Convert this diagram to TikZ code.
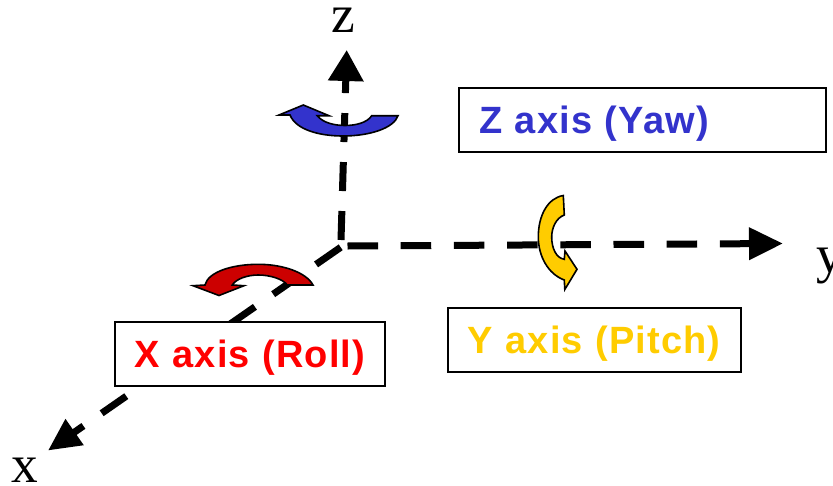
\documentclass[tikz,border=0pt]{standalone}
\usepackage{fontspec}
\usetikzlibrary{arrows.meta}
\setmainfont{Liberation Serif}
\newfontfamily\labelfont[LetterSpace=3]{Liberation Sans}
\definecolor{yawblue}{HTML}{3333CC}
\definecolor{rolldark}{HTML}{CC0000}
\definecolor{rollred}{HTML}{FF0000}
\definecolor{pitchyellow}{HTML}{FFCC00}
\tikzset{
  axisline/.style={line width=5.25pt,line cap=butt},
  rotarrow/.style={draw=black,line width=1.2pt,line join=miter,miter limit=10},
  labelbox/.style={draw=black,fill=white,line width=1.5pt,anchor=north west,
    minimum height=48pt,inner xsep=15pt,inner ysep=0pt,text height=21pt,text depth=0pt,
    align=left,font=\labelfont\bfseries\fontsize{28.5pt}{30pt}\selectfont},
  axislabel/.style={anchor=base,inner sep=0pt,font=\fontsize{40pt}{44pt}\selectfont}
}
\begin{document}
\begin{tikzpicture}[x=0.75pt,y=-0.75pt]
\useasboundingbox (0,0) rectangle (833,486);
\coordinate (oz) at (341,240);
\coordinate (oy) at (347.5,246);
\coordinate (ox) at (340.7,247.3);
\coordinate (zend) at (346.7,50);
\coordinate (yend) at (783,243.5);
\coordinate (xend) at (48,450.5);
% axes
\draw[axisline,dash pattern=on 21.75pt off 15pt,-{Triangle[length=23.25pt,width=25.5pt]}] (oz) -- (zend);
\draw[axisline,dash pattern=on 22.9pt off 17pt,-{Triangle[length=25.5pt,width=23.25pt]}] (oy) -- (yend);
\draw[axisline,dash pattern=on 22.5pt off 16.65pt,-{Triangle[length=24.3pt,width=22.5pt]}] (ox) -- (xend);
% rotation arrows
\draw[rotarrow,fill=yawblue] (279,115) -- (303.3,105) -- (329,115.7) -- (317.3,115.7)
  .. controls (323,123) and (335,125.5) .. (345,125.5)
  .. controls (355,125.5) and (367,123) .. (371.7,115.7) -- (398,115.7)
  .. controls (394,128) and (370,136) .. (343,136)
  .. controls (320,136) and (296,130) .. (290,115) -- cycle;
\draw[rotarrow,fill=rolldark] (313,285)
  .. controls (306,272) and (282,264.3) .. (258.3,264.3)
  .. controls (232,264.3) and (208,272) .. (205,285)
  -- (193,285.7) -- (219,295.5) -- (244,285.7) -- (232.3,285)
  .. controls (236,279) and (247,275) .. (258.3,275)
  .. controls (270,275) and (283,279) .. (287.3,285) -- cycle;
\draw[rotarrow,fill=pitchyellow] (563.3,195.5) -- (564.3,215)
  .. controls (556,218) and (551.7,228) .. (551.7,237)
  .. controls (551.7,248) and (556,258) .. (564.3,259.3)
  -- (565,251) -- (577,269.3) -- (564.8,289.5) -- (564.3,280)
  .. controls (548,274) and (538.3,256) .. (538.3,237)
  .. controls (538.3,215) and (548,198) .. (563.3,195.5) -- cycle;
% label boxes
\node[labelbox,text=yawblue,minimum width=275.25pt,text width=245.25pt] (zbox) at (458,86.5) {\mbox{Z axis (Yaw)}};
\node[labelbox,text=rollred,minimum width=202.5pt,text width=172.5pt] (xbox) at (113.5,320.5) {\mbox{X axis (Roll)}};
\node[labelbox,text=pitchyellow,minimum width=220pt,text width=190pt] (ybox) at (446.5,306.5) {\mbox{Y axis (Pitch)}};
% axis names
\node[axislabel] (zlabel) at (343,32) {z};
\node[axislabel] (xlabel) at (25,482) {x};
\node[axislabel,anchor=base west] (ylabel) at (816,272) {y};
\end{tikzpicture}
\end{document}
